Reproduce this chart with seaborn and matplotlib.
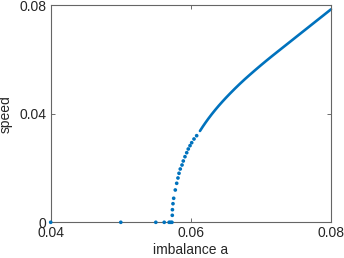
import numpy as np
import pandas as pd
import matplotlib
matplotlib.use("Agg")
import matplotlib.pyplot as plt
import seaborn as sns

# sparse points (zero branch + onset)
sparse_a = [0.0400, 0.0500, 0.0550, 0.0562, 0.0569, 0.0571, 0.0573,
            0.05735, 0.05737, 0.05745, 0.05755, 0.05778, 0.05798, 0.05816,
            0.05831, 0.05849, 0.05874, 0.05892, 0.05916, 0.05941, 0.05963,
            0.05988, 0.06012, 0.06045, 0.06083]
sparse_v = [0.0, 0.0, 0.0, 0.0, 0.0, 0.0, 0.0,
            0.00258, 0.00465, 0.00686, 0.00886, 0.01192, 0.01439, 0.01635,
            0.01808, 0.01967, 0.02114, 0.02262, 0.02421, 0.02568, 0.02705,
            0.02827, 0.02937, 0.03074, 0.03196]

# dense branch (appears as a continuous line)
dense_a = [0.0613, 0.0617, 0.0621, 0.0625, 0.0630, 0.0635, 0.0640, 0.0645,
           0.0650, 0.0656, 0.0663, 0.0670, 0.0677, 0.0684, 0.0692, 0.0700,
           0.0708, 0.0716, 0.0725, 0.0735, 0.0745, 0.0756, 0.0767, 0.0778,
           0.0789, 0.0800]
dense_v = [0.0337, 0.0353, 0.0368, 0.03824, 0.03994, 0.04154, 0.04307,
           0.04452, 0.04592, 0.04754, 0.04936, 0.05111, 0.05279, 0.05440,
           0.05620, 0.05796, 0.05968, 0.06136, 0.06321, 0.06526, 0.06731,
           0.06957, 0.07182, 0.07408, 0.07633, 0.07859]

x_ticks = [0.04, 0.06, 0.08]
x_ticklabels = ["0.04", "0.06", "0.08"]
y_ticks = [0.0, 0.04, 0.08]
y_ticklabels = ["0", "0.04", "0.08"]

sns.set_theme(style="ticks")
plt.rcParams["font.family"] = ["Liberation Sans", "DejaVu Sans"]

blue = "#0072BD"
txt = "#262626"

fig = plt.figure(figsize=(3.44, 2.58), dpi=100)
ax = fig.add_axes([0.1474, 0.1384, 0.9622 - 0.1474, 0.9787 - 0.1384])

sparse_df = pd.DataFrame({"a": sparse_a, "v": sparse_v})
dense_df = pd.DataFrame({"a": dense_a, "v": dense_v})

sns.lineplot(data=dense_df, x="a", y="v", ax=ax, color=blue, lw=1.9,
             sort=False, estimator=None, clip_on=False)
sns.scatterplot(data=sparse_df, x="a", y="v", ax=ax, color=blue, s=7,
                edgecolor="none", linewidth=0, clip_on=False, zorder=3)

ax.set_xlim(0.04, 0.08)
ax.set_ylim(0.0, 0.08)
ax.set_xticks(x_ticks)
ax.set_xticklabels(x_ticklabels)
ax.set_yticks(y_ticks)
ax.set_yticklabels(y_ticklabels)
ax.set_xlabel("imbalance a", fontsize=10, color=txt, labelpad=2)
ax.set_ylabel("speed", fontsize=10, color=txt, labelpad=5)
ax.tick_params(direction="in", length=3, width=0.6, colors="#555555",
               labelcolor=txt, labelsize=10, top=True, right=True, pad=3)
for sp in ax.spines.values():
    sp.set_visible(True)
    sp.set_color("#666666")
    sp.set_linewidth(0.8)
ax.grid(False)

fig.savefig("out.png", dpi=100)
